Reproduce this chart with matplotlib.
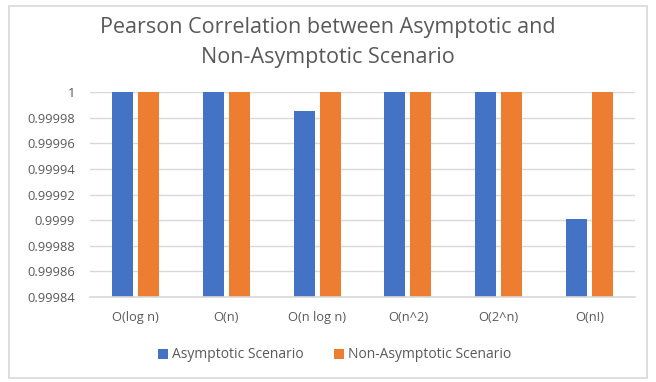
import matplotlib
matplotlib.use("Agg")
import matplotlib.pyplot as plt
from matplotlib.patches import Rectangle
import numpy as np

categories = ["O(log n)", "O(n)", "O(n log n)", "O(n^2)", "O(2^n)", "O(n!)"]
asymptotic = [1.0, 1.0, 0.999985, 1.0, 1.0, 0.999901]
non_asymptotic = [1.0, 1.0, 1.0, 1.0, 1.0, 1.0]
series_names = ["Asymptotic Scenario", "Non-Asymptotic Scenario"]
y_ticks = [0.99984, 0.99986, 0.99988, 0.9999, 0.99992, 0.99994, 0.99996, 0.99998, 1.0]
y_tick_labels = ["0.99984", "0.99986", "0.99988", "0.9999", "0.99992", "0.99994", "0.99996", "0.99998", "1"]

plt.rcParams['font.family'] = ['Open Sans', 'DejaVu Sans']

fig = plt.figure(figsize=(6.56, 3.82), dpi=100)
ax = fig.add_axes([90/656, 1-297/382, 545/656, 205/382])

x = np.arange(len(categories))
w = 0.23
off = 0.143
ax.bar(x - off, asymptotic, width=w, color="#4472C4", label=series_names[0], zorder=3)
ax.bar(x + off, non_asymptotic, width=w, color="#ED7D31", label=series_names[1], zorder=3)

ax.set_ylim(0.99984, 1.0)
ax.set_xlim(-0.5, len(categories) - 0.5)
ax.set_yticks(y_ticks)
ax.set_yticklabels(y_tick_labels)
ax.set_xticks(x)
ax.set_xticklabels(categories)
ax.tick_params(axis='y', length=0, pad=11, labelsize=9.3, labelcolor="#595959")
ax.tick_params(axis='x', length=0, pad=10, labelsize=9.3, labelcolor="#595959")
ax.yaxis.grid(True, color="#D9D9D9", linewidth=1.0, zorder=0)
for s in ["top", "right", "left"]:
    ax.spines[s].set_visible(False)
ax.spines["bottom"].set_color("#D9D9D9")
ax.spines["bottom"].set_linewidth(1.2)
ax.spines["bottom"].set_zorder(4)

fig.text(0.5, 1-27/382, "Pearson Correlation between Asymptotic and", ha="center", va="center",
         fontsize=15.5, color="#595959")
fig.text(0.5, 1-57/382, "Non-Asymptotic Scenario", ha="center", va="center",
         fontsize=15.5, color="#595959")

fig.legend(loc="center", bbox_to_anchor=(335/656, 1-355/382), ncol=2, frameon=False,
           fontsize=10, labelcolor="#595959", handlelength=0.7, handleheight=0.7,
           handletextpad=0.3, columnspacing=2.2)

fig.patches.append(Rectangle((9/656, 4/382), 638/656, 372/382, transform=fig.transFigure,
                             fill=False, edgecolor="#D9D9D9", linewidth=1.2))

fig.savefig("out.png", dpi=100)
